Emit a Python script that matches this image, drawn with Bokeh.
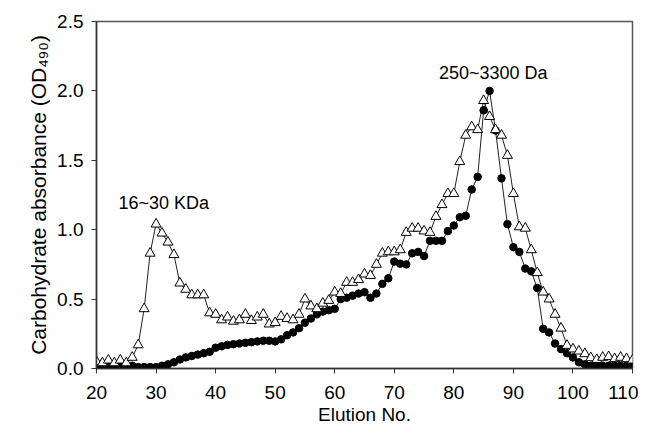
from bokeh.plotting import figure
from bokeh.models import Range1d, FixedTicker, NumeralTickFormatter, ColumnDataSource
from bokeh.core.properties import value
from bokeh.embed import file_html
from bokeh.resources import INLINE

elution = list(range(20, 111))

# open triangles series
triangles = [0.05, 0.04, 0.06, 0.04, 0.06, 0.04, 0.08, 0.17, 0.43, 0.83,
             1.04, 0.975, 0.91, 0.82, 0.615, 0.57, 0.53, 0.53, 0.53, 0.40,
             0.39, 0.35, 0.37, 0.34, 0.35, 0.39, 0.345, 0.37, 0.39, 0.32,
             0.33, 0.375, 0.36, 0.35, 0.39, 0.50, 0.45, 0.43, 0.47, 0.49,
             0.55, 0.54, 0.62, 0.62, 0.64, 0.68, 0.67, 0.75, 0.83, 0.84,
             0.84, 0.855, 0.98, 1.01, 1.01, 0.99, 0.98, 1.095, 1.18, 1.26,
             1.26, 1.49, 1.68, 1.74, 1.72, 1.93, 1.815, 1.72, 1.68, 1.535,
             1.26, 1.02, 1.01, 0.855, 0.69, 0.55, 0.50, 0.39, 0.29, 0.166,
             0.14, 0.125, 0.106, 0.077, 0.064, 0.08, 0.085, 0.07, 0.08, 0.07,
             0.06]

# filled circles series
circles = [0.02, 0.03, 0.02, 0.02, 0.03, 0.02, 0.02, 0.01, 0.01, 0.01,
           0.01, 0.02, 0.03, 0.045, 0.065, 0.08, 0.09, 0.10, 0.11, 0.12,
           0.15, 0.16, 0.17, 0.175, 0.18, 0.185, 0.19, 0.195, 0.20, 0.20,
           0.195, 0.21, 0.24, 0.26, 0.29, 0.33, 0.36, 0.39, 0.41, 0.42,
           0.43, 0.50, 0.51, 0.525, 0.54, 0.55, 0.51, 0.54, 0.61, 0.65,
           0.77, 0.755, 0.75, 0.83, 0.84, 0.81, 0.92, 0.92, 0.92, 0.99,
           1.03, 1.09, 1.10, 1.29, 1.38, 1.86, 2.00, 1.715, 1.37, 1.04,
           0.874, 0.84, 0.72, 0.70, 0.58, 0.286, 0.26, 0.18, 0.14, 0.11,
           0.08, 0.045, 0.03, 0.02, 0.02, 0.02, 0.02, 0.02, 0.02, 0.02,
           0.02]

x_ticks = [20, 30, 40, 50, 60, 70, 80, 90, 100, 110]
y_ticks = [0.0, 0.5, 1.0, 1.5, 2.0, 2.5]

annot_text = ["16~30 KDa", "250~3300 Da"]
annot_x = [23.7, 77.5]
annot_y = [1.19, 2.13]

FONT = "Liberation Sans"

p = figure(frame_width=536, frame_height=347,
           x_range=Range1d(20, 110), y_range=Range1d(0, 2.5),
           output_backend="svg", toolbar_location=None,
           min_border_left=96, min_border_right=6, min_border_top=21,
           min_border_bottom=64)
p.grid.visible = False
p.background_fill_color = "white"
p.border_fill_color = "white"
p.outline_line_color = "#555555"
p.outline_line_width = 1.5

src = ColumnDataSource(dict(x=elution, t=triangles, c=circles))
p.line("x", "t", source=src, line_color="#222222", line_width=1)
p.line("x", "c", source=src, line_color="#222222", line_width=1)
p.scatter("x", "c", source=src, marker="circle", size=7.5,
          fill_color="black", line_color="black")
p.scatter("x", "t", source=src, marker="triangle", size=10,
          fill_color="white", line_color="black", line_width=1)

p.text(x=annot_x, y=annot_y, text=annot_text, text_font=value(FONT),
       text_font_size="18px", text_align="left", text_baseline="middle",
       text_color="black")

p.xaxis.ticker = FixedTicker(ticks=x_ticks)
p.yaxis.ticker = FixedTicker(ticks=y_ticks)
p.yaxis.formatter = NumeralTickFormatter(format="0.0")
p.xaxis.axis_label = "Elution No."
p.yaxis.axis_label = "Carbohydrate absorbance (OD₄₉₀)"

for ax in (p.xaxis[0], p.yaxis[0]):
    ax.axis_line_color = "#333333"
    ax.axis_line_width = 1.5
    ax.major_tick_line_color = "#333333"
    ax.major_tick_out = 5
    ax.major_tick_in = 0
    ax.minor_tick_out = 0
    ax.minor_tick_in = 0
    ax.major_label_text_font = FONT
    ax.major_label_text_font_size = "19px"
    ax.major_label_text_color = "black"
    ax.axis_label_text_font = FONT
    ax.axis_label_text_font_style = "normal"
    ax.axis_label_text_color = "black"

p.xaxis.axis_label_text_font_size = "19px"
p.yaxis.axis_label_text_font_size = "21px"
p.xaxis.major_label_standoff = 12
p.yaxis.major_label_standoff = 8
p.xaxis.axis_label_standoff = 2
p.yaxis.axis_label_standoff = 4

open("out.html", "w").write(file_html(p, INLINE))
